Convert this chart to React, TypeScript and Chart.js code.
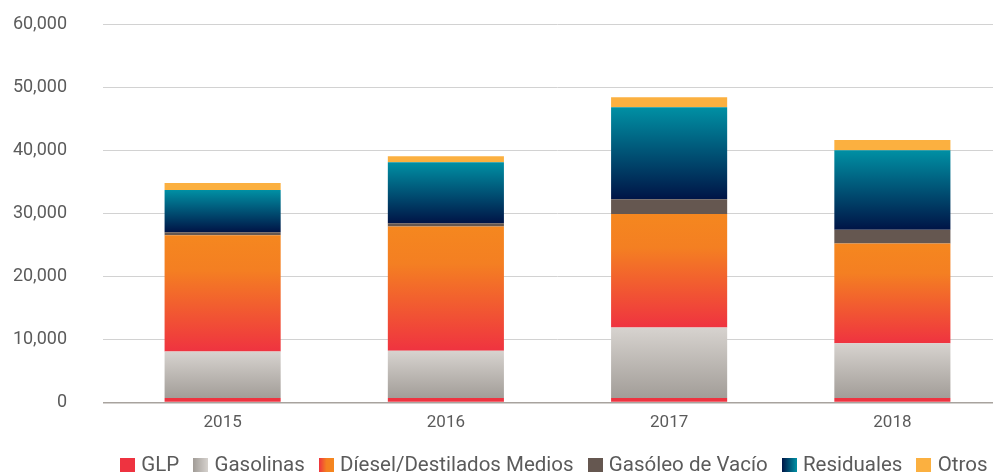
import React, { useEffect, useRef } from "react";
import { Chart, registerables } from "chart.js";

Chart.register(...registerables);

const years = ["2015", "2016", "2017", "2018"];
const glp = [700, 700, 700, 700];
const gasolinas = [7400, 7500, 11200, 8700];
const diesel = [18400, 19700, 18000, 15800];
const gasoleo = [500, 500, 2300, 2200];
const residuales = [6700, 9700, 14600, 12600];
const otros = [1100, 950, 1600, 1600];
const seriesNames = ["GLP", "Gasolinas", "Díesel/Destilados Medios", "Gasóleo de Vacío", "Residuales", "Otros"];

const FONT = "Roboto";
const TEXT = "#5b5b5b";
const LEGEND_FS = 20.5;
const LEGEND_PAD = 18;

// colour stops (top -> bottom for bars)
const stops: string[][] = [
  ["#ee3340"],
  ["#d7d3cf", "#a29d98"],
  ["#f5871f", "#f47f22", "#ef3340"],
  ["#655750"],
  ["#0090a4", "#001446"],
  ["#fbb040"],
];

function makeBox(cols: string[]) {
  const c = document.createElement("canvas");
  c.width = 15;
  c.height = 15;
  const x = c.getContext("2d")!;
  if (cols.length === 1) {
    x.fillStyle = cols[0];
  } else {
    const g = x.createLinearGradient(0, 0, 15, 0);
    const rev = [...cols].reverse();
    rev.forEach((col, i) => g.addColorStop(i / (rev.length - 1), col));
    x.fillStyle = g;
  }
  x.fillRect(0, 0, 15, 15);
  return c;
}

export default function App() {
  const ref = useRef<HTMLCanvasElement>(null);
  useEffect(() => {
    const all = [glp, gasolinas, diesel, gasoleo, residuales, otros];
    const bg = (di: number) => (ctx: any) => {
      const cols = stops[di];
      if (cols.length === 1) return cols[0];
      const chart = ctx.chart;
      const y = chart.scales && chart.scales.y;
      if (!y || ctx.type !== "data") return cols[0];
      const i = ctx.dataIndex;
      let base = 0;
      for (let k = 0; k < di; k++) base += all[k][i];
      const top = base + all[di][i];
      const g = chart.ctx.createLinearGradient(0, y.getPixelForValue(top), 0, y.getPixelForValue(base));
      cols.forEach((col, j) => g.addColorStop(cols.length === 3 && j === 1 ? 0.3 : j / (cols.length - 1), col));
      return g;
    };
    const boxes = stops.map(makeBox);
    const legendShift = {
      id: "legendShift",
      beforeDraw(chart: any) {
        const lg = chart.legend;
        if (lg) {
          const w = lg.right - lg.left;
          lg.left = 106;
          lg.right = 106 + w;
        }
      },
    };
    const chart = new Chart(ref.current!, {
      type: "bar",
      data: {
        labels: years,
        datasets: all.map((d, di) => ({
          label: seriesNames[di],
          data: d,
          backgroundColor: bg(di),
          borderWidth: 0,
          barPercentage: 0.52,
          categoryPercentage: 1,
        })),
      },
      plugins: [legendShift],
      options: {
        responsive: false,
        animation: false,
        devicePixelRatio: 1,
        layout: { padding: { top: 24, left: 0, right: 0, bottom: 0 } },
        plugins: {
          tooltip: { enabled: false },
          legend: {
            position: "bottom",
            align: "start",
            labels: {
              font: { family: FONT, size: LEGEND_FS },
              color: TEXT,
              usePointStyle: true,
              pointStyleWidth: 7,
              boxWidth: 15,
              boxHeight: 15,
              padding: LEGEND_PAD,
              generateLabels: () =>
                seriesNames.map((n, i) => ({
                  text: n,
                  pointStyle: boxes[i] as any,
                  fillStyle: stops[i][0],
                  strokeStyle: "transparent",
                  lineWidth: 0,
                  hidden: false,
                  datasetIndex: i,
                  fontColor: TEXT,
                })),
            },
          },
        },
        scales: {
          x: {
            stacked: true,
            afterFit: (s: any) => {
              s.height = 35;
            },
            grid: { display: false, drawTicks: false },
            border: { display: false },
            ticks: { font: { family: FONT, size: 17 }, color: TEXT, padding: 10 },
          },
          y: {
            stacked: true,
            min: 0,
            max: 60000,
            afterFit: (s: any) => {
              s.width = 111;
              s.paddingTop = 0;
              s.paddingBottom = 0;
            },
            border: { display: false },
            grid: {
              color: (c: any) => (c.index === 0 ? "#a8a39e" : "#d2d2d2"),
              lineWidth: (c: any) => (c.index === 0 ? 1.5 : 1),
              tickLength: 8,
              drawTicks: true,
            },
            ticks: {
              stepSize: 10000,
              padding: 36,
              font: { family: FONT, size: 18 },
              color: TEXT,
              callback: (v: any) => Number(v).toLocaleString("en-US"),
            },
          },
        },
      },
    });
    return () => chart.destroy();
  }, []);
  return (
    <div style={{ position: "absolute", left: 0, top: 0, width: 993, height: 472, overflow: "hidden", background: "#fff" }}>
      <canvas ref={ref} width={1004} height={486} />
    </div>
  );
}
